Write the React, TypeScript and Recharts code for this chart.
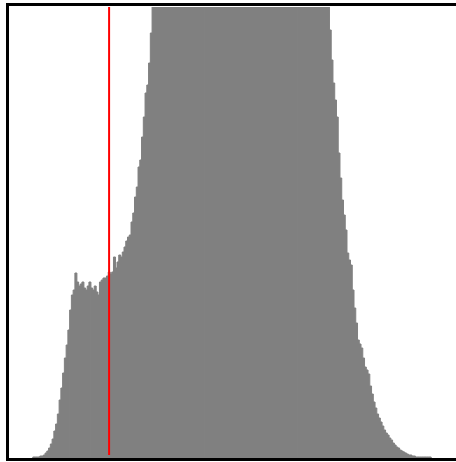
import React from 'react';
import { BarChart, Bar, XAxis, YAxis, ReferenceLine } from 'recharts';

// 256-bin intensity histogram; bins 81-181 run off the top of the plot
const counts: number[] = [
  0, 0, 0, 0, 0, 0, 0, 0, 0, 0, 0, 0, 0, 1, 1, 1,
  1, 2, 2, 3, 5, 7, 10, 14, 19, 27, 34, 44, 58, 70, 85, 100,
  113, 128, 148, 163, 168, 185, 176, 172, 174, 176, 170, 168, 172, 176, 170, 168,
  172, 166, 163, 176, 178, 180, 180, 182, 186, 184, 186, 201, 190, 196, 203, 201,
  206, 211, 217, 221, 223, 236, 245, 261, 271, 291, 298, 321, 341, 365, 373, 395,
  425, 470, 510, 550, 590, 630, 665, 700, 735, 765, 790, 815, 835, 855, 870, 885,
  895, 905, 912, 918, 922, 925, 927, 928, 928, 927, 925, 922, 918, 914, 910, 905,
  900, 895, 890, 885, 880, 875, 870, 866, 862, 858, 855, 852, 850, 848, 846, 845,
  844, 843, 842, 841, 840, 838, 836, 834, 832, 830, 827, 824, 820, 816, 812, 808,
  803, 798, 792, 786, 779, 772, 764, 756, 747, 738, 728, 718, 707, 696, 684, 672,
  660, 648, 636, 624, 612, 600, 589, 578, 567, 556, 545, 535, 525, 515, 505, 497,
  490, 482, 475, 468, 462, 456, 428, 398, 375, 358, 341, 305, 280, 258, 243, 228,
  205, 198, 193, 168, 150, 135, 118, 114, 110, 100, 91, 88, 84, 72, 64, 56,
  50, 44, 40, 36, 32, 28, 25, 23, 20, 18, 15, 13, 11, 10, 8, 7,
  6, 5, 4, 3, 3, 2, 2, 1, 1, 1, 1, 1, 1, 1, 1, 1,
  0, 0, 0, 0, 0, 0, 0, 0, 0, 0, 0, 0, 0, 0, 0, 0,
];

const yMax = 451;
const markerBin = 56;

const data = counts.map((count, bin) => ({ bin, count }));

export default function App() {
  return (
    <div
      style={{
        position: 'absolute',
        left: 6,
        top: 3,
        width: 460,
        height: 452,
        borderLeft: '3px solid #000',
        borderTop: '3px solid #000',
        borderBottom: '3px solid #000',
        background: '#fff',
      }}
    >
      <BarChart
        width={450}
        height={452}
        data={data}
        margin={{ top: 1, right: 0, left: 1, bottom: 0 }}
        barCategoryGap={0}
        barGap={0}
      >
        <XAxis dataKey="bin" hide />
        <YAxis domain={[0, yMax]} allowDataOverflow hide />
        <Bar
          dataKey="count"
          fill="#808080"
          stroke="#808080"
          strokeWidth={1}
          isAnimationActive={false}
        />
        <ReferenceLine
          segment={[
            { x: markerBin, y: 3 },
            { x: markerBin, y: yMax },
          ]}
          stroke="#ff0000"
          strokeWidth={2}
        />
      </BarChart>
    </div>
  );
}
